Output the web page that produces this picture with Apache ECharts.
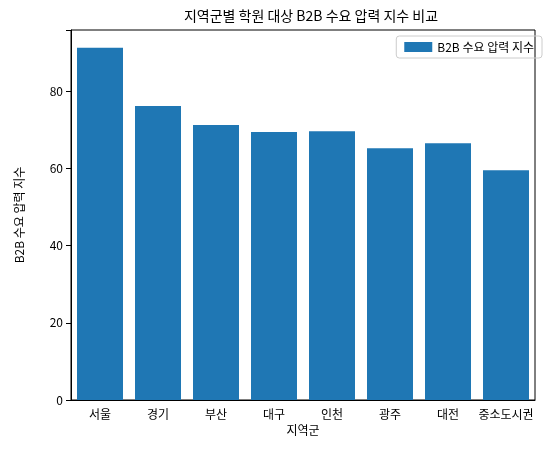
<!DOCTYPE html><html><head><meta charset="utf-8"><script src="https://cdn.jsdelivr.net/npm/echarts@6/dist/echarts.min.js"></script></head><body style="margin:0"><div id="c" style="width:560px;height:454px"></div><script>
const categories=['서울','경기','부산','대구','인천','광주','대전','중소도시권'];
const values=[91.2,76.1,71.2,69.4,69.6,65.2,66.5,59.5];
const yTicks=[0,20,40,60,80];
const F='Noto Sans CJK KR';
const ch=echarts.init(document.getElementById('c'));
ch.setOption({animation:false,textStyle:{fontFamily:F},
title:{text:'지역군별 학원 대상 B2B 수요 압력 지수 비교',left:306,top:4,textAlign:'center',textStyle:{fontFamily:F,fontSize:14,fontWeight:'normal',color:'#000'}},
legend:{right:18,top:36,icon:'rect',itemWidth:28,itemHeight:10,textStyle:{fontFamily:F,fontSize:12,color:'#000'},borderColor:'#ccc',borderWidth:1,borderRadius:3,padding:[5,8],data:['B2B 수요 압력 지수']},
grid:{left:71,right:25,top:30,bottom:54,show:true,borderColor:'#000',borderWidth:1},
xAxis:{type:'category',data:categories,name:'지역군',nameLocation:'middle',nameGap:24,nameTextStyle:{fontFamily:F,fontSize:12,color:'#000'},axisLine:{lineStyle:{color:'#000'}},axisTick:{alignWithLabel:true,lineStyle:{color:'#000'}},axisLabel:{interval:0,color:'#000',fontSize:12,fontFamily:F}},
yAxis:{type:'value',min:0,max:95.8,interval:20,name:'B2B 수요 압력 지수',nameLocation:'middle',nameGap:46,nameTextStyle:{fontFamily:F,fontSize:12,color:'#000'},splitLine:{show:false},axisLine:{show:true,lineStyle:{color:'#000'}},axisTick:{show:true,lineStyle:{color:'#000'}},axisLabel:{color:'#000',fontSize:12,fontFamily:F,formatter:v=>yTicks.includes(v)?String(v):''}},
series:[{name:'B2B 수요 압력 지수',type:'bar',data:values,barWidth:46,itemStyle:{color:'#1f77b4'}}]});
</script></body></html>
